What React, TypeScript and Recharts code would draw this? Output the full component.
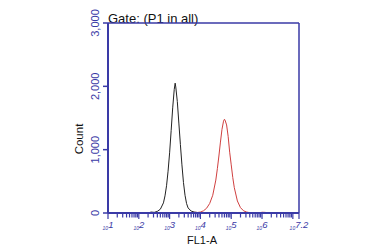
import React from "react";
import { ComposedChart, Line, XAxis, YAxis, ReferenceLine } from "recharts";

const BLUE = "#3a3aa6";

// black histogram (log10 FL1-A, count)
const blackX = [1.0, 2.3, 2.4, 2.5, 2.6, 2.7, 2.8, 2.85, 2.9, 2.95, 3.0, 3.05, 3.1, 3.15, 3.18, 3.2, 3.25, 3.3, 3.35, 3.4, 3.45, 3.5, 3.55, 3.6, 3.7, 3.8, 3.9, 4.0, 7.2];
const blackY = [0, 0, 15, 10, 25, 60, 160, 270, 430, 660, 950, 1300, 1660, 1950, 2050, 1990, 1760, 1420, 1080, 760, 480, 280, 150, 80, 30, 15, 8, 0, 0];

// red histogram
const redX = [1.0, 3.6, 3.8, 3.9, 4.0, 4.1, 4.2, 4.3, 4.4, 4.5, 4.55, 4.6, 4.65, 4.7, 4.75, 4.78, 4.8, 4.85, 4.9, 4.95, 5.0, 5.05, 5.1, 5.2, 5.3, 5.4, 5.5, 5.6, 5.9, 6.0, 6.1, 6.2, 7.2];
const redY = [0, 0, 10, 8, 15, 35, 75, 150, 280, 520, 700, 900, 1120, 1320, 1450, 1480, 1465, 1390, 1210, 960, 760, 560, 400, 190, 85, 35, 15, 5, 0, 12, 10, 0, 0];

const yTicks = [0, 1000, 2000, 3000];
const yTickLabels = ["0", "1,000", "2,000", "3,000"];
const decades = [1, 2, 3, 4, 5, 6, 7];
const minorMultipliers = [1, 2, 3, 4, 5, 6, 7, 8, 9];
const xMax = 7.2;

const blackData = blackX.map((x, i) => ({ x, v: blackY[i] }));
const redData = redX.map((x, i) => ({ x, v: redY[i] }));

const xTicks: number[] = [];
decades.forEach((d) => {
  minorMultipliers.forEach((m) => {
    const t = d + Math.log10(m);
    if (t <= xMax + 1e-9) xTicks.push(+t.toFixed(4));
  });
});
xTicks.push(xMax);

const FONT = "Liberation Sans, Arial, sans-serif";

const XTick = (props: any) => {
  const { x, y, payload } = props;
  const v = payload.value;
  const isMajor = Math.abs(v - Math.round(v)) < 1e-6 || Math.abs(v - xMax) < 1e-6;
  let label: string | null = null;
  if (Math.abs(v - xMax) < 1e-6) label = "7.2";
  else if (isMajor && Math.round(v) < 7) label = String(Math.round(v));
  return (
    <g>
      <line x1={x} y1={y} x2={x} y2={y + (isMajor ? 6 : 4.5)} stroke={BLUE} strokeWidth={1.2} />
      {label !== null && (
        <text x={x} y={y + 17} textAnchor="middle" fill={BLUE} fontFamily={FONT} fontStyle="italic">
          <tspan fontSize={5}>10</tspan>
          <tspan fontSize={9.5} dy={-2}>{label}</tspan>
        </text>
      )}
    </g>
  );
};

const YTick = (props: any) => {
  const { x, y, payload } = props;
  const idx = yTicks.indexOf(payload.value);
  return (
    <text
      x={x + 1}
      y={y}
      transform={`rotate(-90, ${x + 1}, ${y})`}
      textAnchor="middle"
      fill={BLUE}
      fontSize={11}
      fontFamily={FONT}
    >
      {yTickLabels[idx]}
    </text>
  );
};

export default function App() {
  return (
    <div style={{ position: "absolute", left: 8, top: 8 }}>
      <ComposedChart width={377} height={242} margin={{ top: 15, right: 86, bottom: 8, left: 0 }}>
        <XAxis
          type="number"
          dataKey="x"
          domain={[1, xMax]}
          ticks={xTicks}
          interval={0}
          allowDataOverflow
          tickLine={false}
          tickSize={0}
          tickMargin={0}
          height={29}
          axisLine={{ stroke: BLUE, strokeWidth: 2 }}
          tick={<XTick />}
        />
        <YAxis
          type="number"
          domain={[0, 3000]}
          ticks={yTicks}
          interval={0}
          width={100}
          tickSize={5}
          tickMargin={5}
          tickLine={{ stroke: BLUE, strokeWidth: 1.5 }}
          axisLine={{ stroke: BLUE, strokeWidth: 2 }}
          tick={<YTick />}
        />
        <ReferenceLine y={3000} stroke={BLUE} strokeWidth={1.5} />
        <ReferenceLine x={xMax} stroke={BLUE} strokeWidth={1.5} />
        <Line data={blackData} dataKey="v" type="linear" stroke="#222222" strokeWidth={1} dot={false} isAnimationActive={false} />
        <Line data={redData} dataKey="v" type="linear" stroke="#d04040" strokeWidth={1} dot={false} isAnimationActive={false} />
        <text x={100} y={15} fontSize={13} fill="#111" fontFamily={FONT}>Gate: (P1 in all)</text>
        <text x={75} y={131} transform="rotate(-90, 75, 131)" textAnchor="middle" fontSize={11.5} fill="#111" fontFamily={FONT}>Count</text>
        <text x={194} y={236} textAnchor="middle" fontSize={11} fill="#111" fontFamily={FONT}>FL1-A</text>
      </ComposedChart>
    </div>
  );
}
